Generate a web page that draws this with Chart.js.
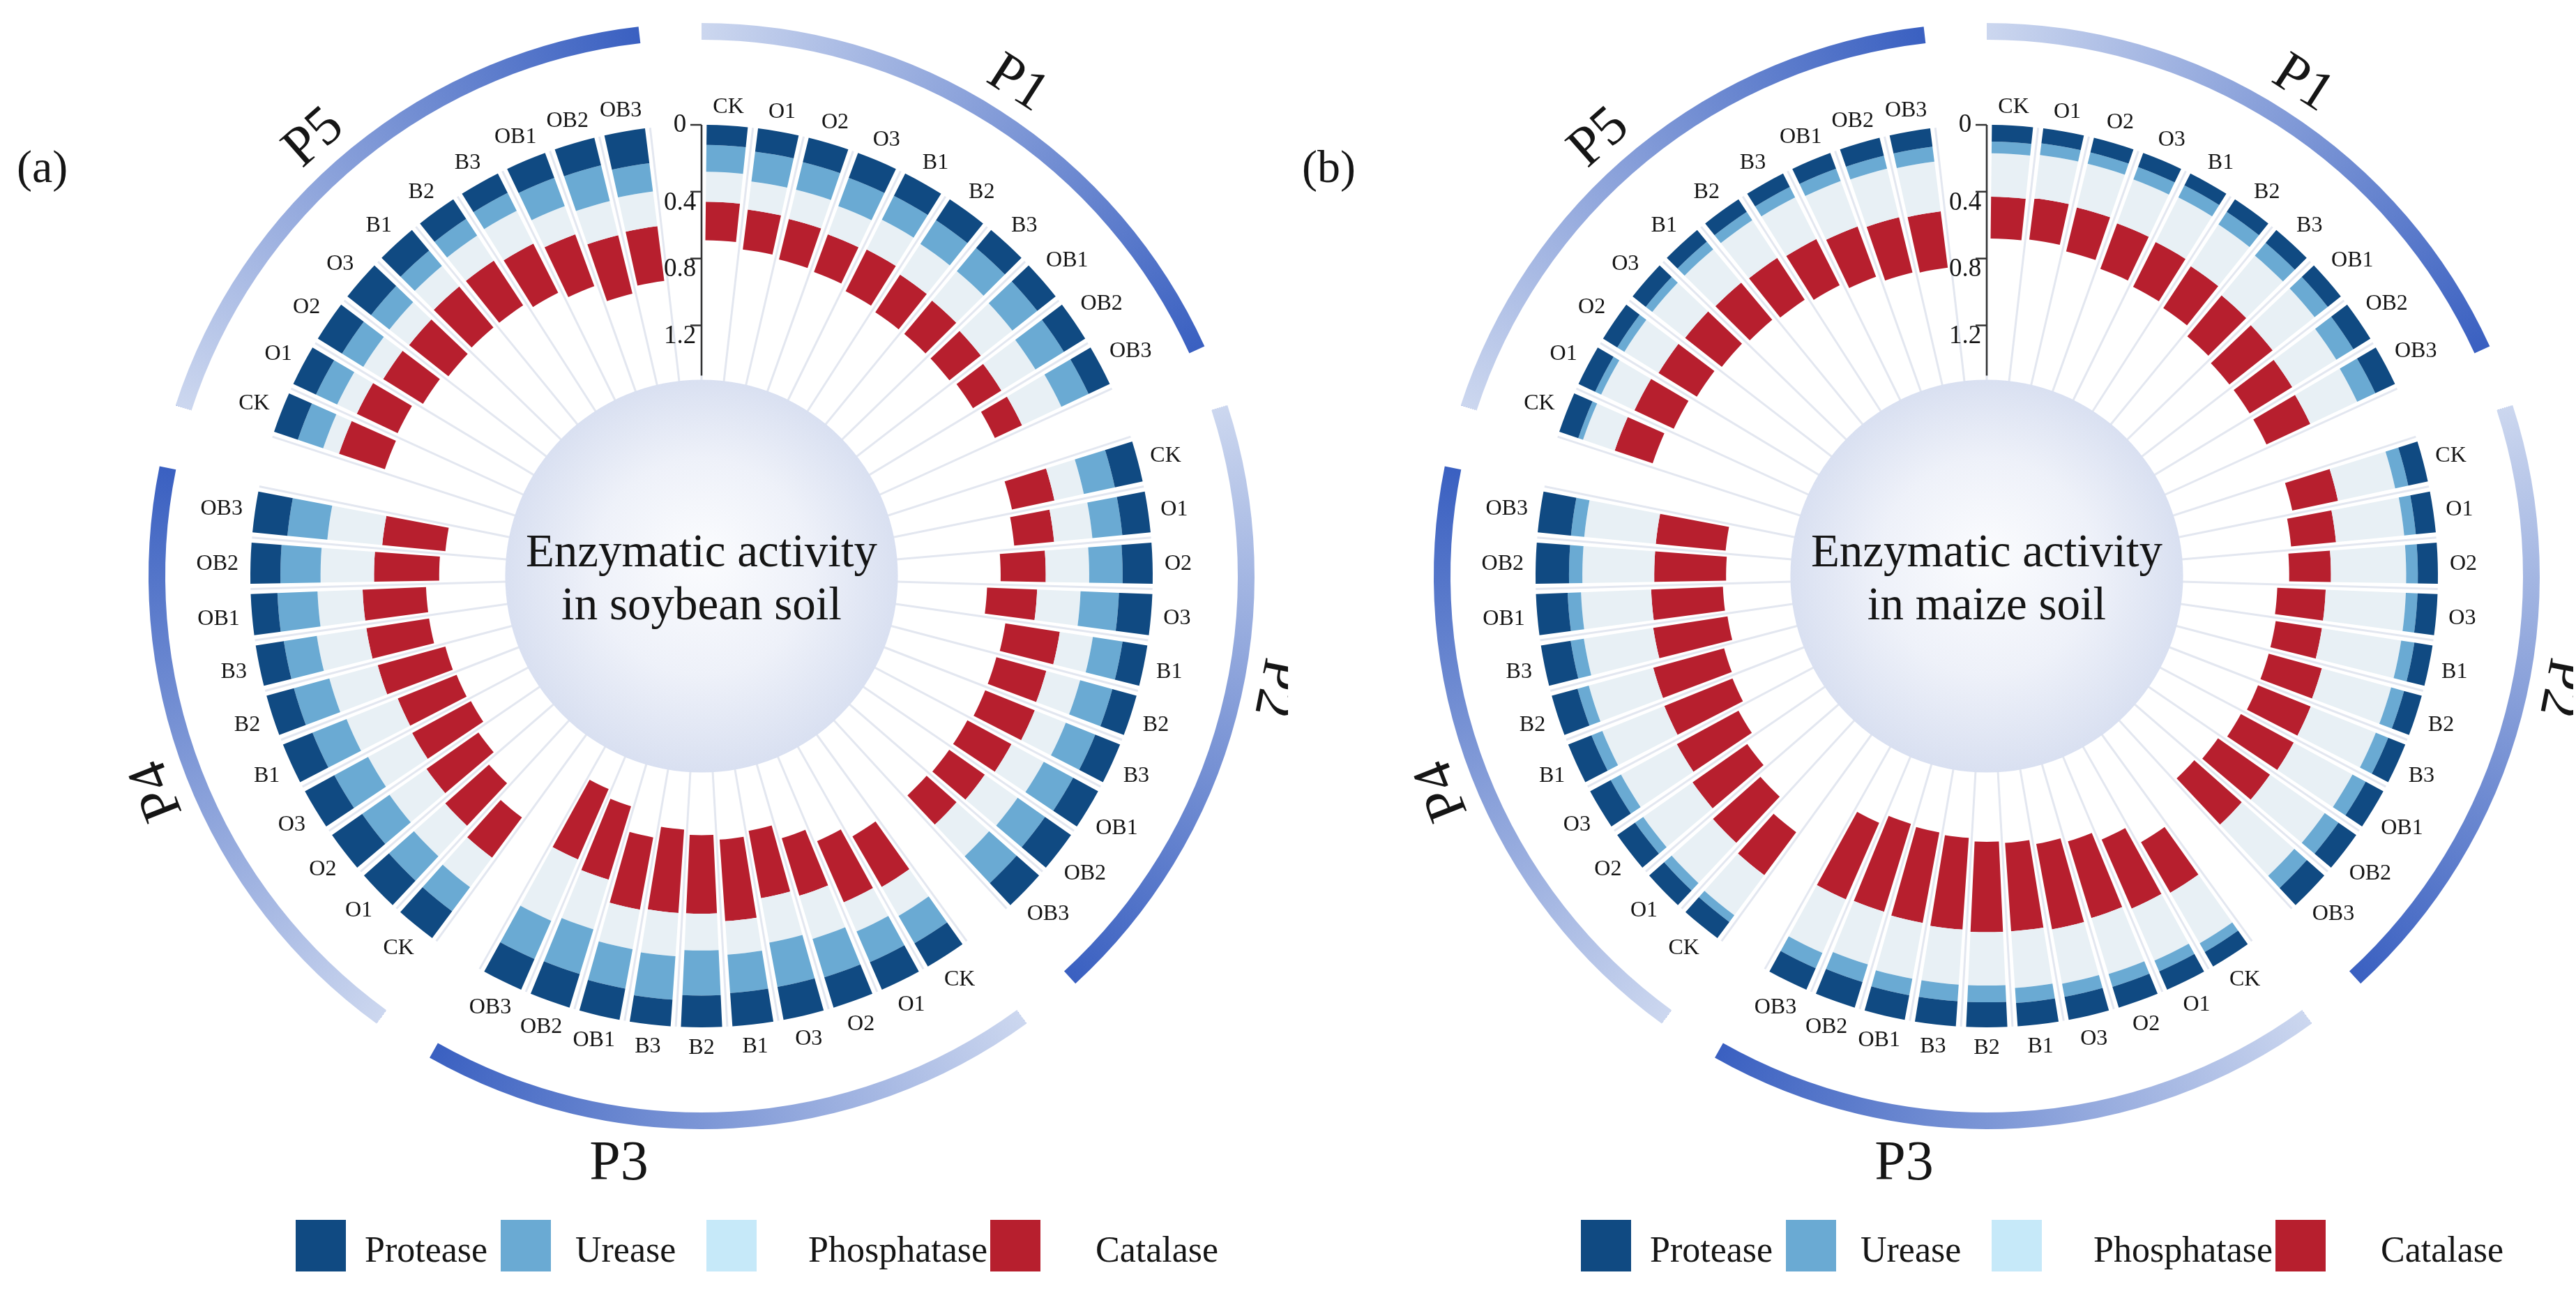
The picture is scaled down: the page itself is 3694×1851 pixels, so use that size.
<!DOCTYPE html>
<html>
<head>
<meta charset="utf-8">
<script src="https://cdn.jsdelivr.net/npm/chart.js@4.4.0/dist/chart.umd.min.js"></script>
<style>
  html, body { margin: 0; padding: 0; background: #fff; }
  #page { position: relative; width: 3694px; height: 1851px; overflow: hidden;
          font-family: "Liberation Serif", "Times New Roman", serif; color: #151515; }
  .panel { position: absolute; top: 0; width: 1847px; height: 1851px; }
  .panel canvas { position: absolute; left: 0; top: 0; }
  .tag { position: absolute; left: 24px; top: 206px; font-size: 66px; line-height: 1; }
  .lg-box { position: absolute; top: 1749px; width: 72px; height: 74px; }
  .lg-text { position: absolute; top: 1766px; font-size: 52px; line-height: 1; white-space: nowrap; }
</style>
</head>
<body>
<div id="page">
  <div class="panel" id="panelA" style="left:0px">
    <canvas id="chartA" width="1847" height="1851"></canvas>
    <div class="tag">(a)</div>
  </div>
  <div class="panel" id="panelB" style="left:1843px">
    <canvas id="chartB" width="1847" height="1851"></canvas>
    <div class="tag">(b)</div>
  </div>
</div>
<script>
  // categories
  const groups = ['P1', 'P2', 'P3', 'P4', 'P5'];
  const treatments = ['CK', 'O1', 'O2', 'O3', 'B1', 'B2', 'B3', 'OB1', 'OB2', 'OB3'];
  const enzymes = ['Protease', 'Urease', 'Phosphatase', 'Catalase'];
  const barColors = ['#104a82', '#6aaad3', '#e8f0f5', '#b71f2e'];
  const legendColors = ['#104a82', '#6aaad3', '#c6e9f9', '#b71f2e'];
  const radialTicks = [0, 0.4, 0.8, 1.2];

  // soybean soil, values per group P1..P5, treatments CK..OB3
  const soyProtease = [
    0.12, 0.14, 0.15, 0.16, 0.15, 0.15, 0.14, 0.14, 0.15, 0.14,
    0.17, 0.17, 0.18, 0.20, 0.15, 0.15, 0.16, 0.17, 0.19, 0.18,
    0.16, 0.18, 0.19, 0.20, 0.20, 0.19, 0.16, 0.19, 0.21, 0.20,
    0.20, 0.20, 0.22, 0.20, 0.19, 0.17, 0.17, 0.16, 0.18, 0.21,
    0.15, 0.15, 0.17, 0.18, 0.16, 0.14, 0.13, 0.16, 0.17, 0.21
  ];
  const soyUrease = [
    0.16, 0.18, 0.17, 0.18, 0.16, 0.17, 0.18, 0.19, 0.20, 0.18,
    0.19, 0.18, 0.20, 0.23, 0.18, 0.20, 0.19, 0.20, 0.20, 0.22,
    0.19, 0.20, 0.24, 0.27, 0.23, 0.27, 0.26, 0.24, 0.28, 0.25,
    0.18, 0.20, 0.20, 0.23, 0.22, 0.22, 0.20, 0.24, 0.24, 0.24,
    0.16, 0.14, 0.15, 0.14, 0.12, 0.12, 0.12, 0.18, 0.22, 0.17
  ];
  const soyPhosphatase = [
    0.18, 0.17, 0.18, 0.18, 0.20, 0.22, 0.23, 0.24, 0.24, 0.26,
    0.18, 0.23, 0.26, 0.26, 0.20, 0.21, 0.20, 0.22, 0.24, 0.26,
    0.20, 0.19, 0.27, 0.27, 0.20, 0.22, 0.26, 0.24, 0.31, 0.40,
    0.22, 0.25, 0.27, 0.30, 0.33, 0.30, 0.30, 0.27, 0.32, 0.33,
    0.10, 0.13, 0.14, 0.15, 0.16, 0.18, 0.22, 0.18, 0.21, 0.21
  ];
  const soyCatalase = [
    0.23, 0.24, 0.25, 0.24, 0.28, 0.27, 0.26, 0.24, 0.20, 0.18,
    0.26, 0.24, 0.27, 0.30, 0.33, 0.31, 0.32, 0.30, 0.26, 0.24,
    0.35, 0.40, 0.36, 0.41, 0.49, 0.47, 0.50, 0.44, 0.46, 0.46,
    0.30, 0.35, 0.38, 0.40, 0.38, 0.42, 0.38, 0.38, 0.39, 0.38,
    0.29, 0.27, 0.28, 0.30, 0.32, 0.32, 0.33, 0.33, 0.36, 0.33
  ];

  // maize soil
  const maizeProtease = [
    0.10, 0.09, 0.09, 0.09, 0.08, 0.09, 0.10, 0.10, 0.12, 0.13,
    0.12, 0.12, 0.12, 0.12, 0.11, 0.11, 0.11, 0.12, 0.13, 0.14,
    0.10, 0.12, 0.13, 0.14, 0.14, 0.15, 0.15, 0.15, 0.16, 0.14,
    0.12, 0.12, 0.13, 0.14, 0.15, 0.16, 0.18, 0.19, 0.20, 0.20,
    0.12, 0.11, 0.10, 0.10, 0.09, 0.09, 0.09, 0.10, 0.11, 0.11
  ];
  const maizeUrease = [
    0.07, 0.07, 0.07, 0.08, 0.08, 0.09, 0.10, 0.10, 0.12, 0.12,
    0.08, 0.07, 0.07, 0.07, 0.08, 0.08, 0.08, 0.09, 0.10, 0.10,
    0.06, 0.07, 0.08, 0.08, 0.09, 0.10, 0.10, 0.10, 0.11, 0.10,
    0.05, 0.06, 0.06, 0.07, 0.07, 0.07, 0.08, 0.08, 0.08, 0.08,
    0.03, 0.04, 0.05, 0.05, 0.06, 0.06, 0.07, 0.08, 0.08, 0.09
  ];
  const maizePhosphatase = [
    0.26, 0.26, 0.27, 0.28, 0.30, 0.30, 0.31, 0.32, 0.31, 0.31,
    0.35, 0.41, 0.45, 0.48, 0.48, 0.43, 0.42, 0.40, 0.40, 0.42,
    0.35, 0.34, 0.35, 0.33, 0.34, 0.32, 0.33, 0.34, 0.33, 0.35,
    0.30, 0.33, 0.36, 0.38, 0.40, 0.40, 0.42, 0.42, 0.43, 0.43,
    0.20, 0.22, 0.24, 0.25, 0.26, 0.27, 0.28, 0.29, 0.30, 0.30
  ];
  const maizeCatalase = [
    0.25, 0.25, 0.27, 0.29, 0.30, 0.30, 0.32, 0.33, 0.30, 0.29,
    0.28, 0.27, 0.25, 0.29, 0.28, 0.33, 0.34, 0.36, 0.38, 0.38,
    0.35, 0.45, 0.48, 0.52, 0.53, 0.54, 0.55, 0.55, 0.55, 0.50,
    0.32, 0.38, 0.40, 0.42, 0.44, 0.44, 0.45, 0.43, 0.43, 0.42,
    0.24, 0.26, 0.27, 0.28, 0.29, 0.30, 0.31, 0.32, 0.34, 0.34
  ];

  const SERIF = '"Liberation Serif", "Times New Roman", serif';
  const groupLabelAngles = [32.7, 101, 188, 248.5, 318.5];
  const groupLabelRadius = [838, 838, 852, 838, 838];

  // one empty slot after each group leaves the gaps
  function slotLabels() {
    const out = [];
    groups.forEach(() => { treatments.forEach(t => out.push(t)); out.push(''); });
    return out;
  }
  function slotData(values) {
    const out = [];
    groups.forEach((g, gi) => {
      for (let k = 0; k < treatments.length; k++) out.push(values[gi * treatments.length + k]);
      out.push(null);
    });
    return out;
  }

  // stacks the arcs from the outer edge inward, and narrows each bar
  const radialStack = {
    id: 'radialStack',
    afterDatasetsUpdate(chart) {
      const scale = chart.scales.r;
      const n = chart.data.labels.length;
      const slot = 2 * Math.PI / n;
      const trim = slot * 0.1;
      const base = new Array(n).fill(0);
      chart.data.datasets.forEach((ds, di) => {
        chart.getDatasetMeta(di).data.forEach((arc, i) => {
          const v = ds.data[i];
          if (v == null) {
            arc.innerRadius = 0; arc.outerRadius = 0; arc.circumference = 0;
            return;
          }
          const start = -Math.PI / 2 + i * slot + trim;
          arc.startAngle = start;
          arc.endAngle = start + slot - 2 * trim;
          arc.circumference = slot - 2 * trim;
          arc.outerRadius = scale.getDistanceFromCenterForValue(base[i]);
          arc.innerRadius = scale.getDistanceFromCenterForValue(base[i] + v);
          base[i] += v;
        });
      });
    },
    beforeDatasetsDraw(chart) {
      const ctx = chart.ctx;
      const scale = chart.scales.r;
      const cx = scale.xCenter, cy = scale.yCenter;
      const n = chart.data.labels.length;
      ctx.save();
      // radial grid lines at slot edges
      ctx.strokeStyle = '#e3e7f0';
      ctx.lineWidth = 3;
      for (let i = 0; i < n; i++) {
        const p = scale.getPointPosition(i, scale.getDistanceFromCenterForValue(0));
        ctx.beginPath();
        ctx.moveTo(cx, cy);
        ctx.lineTo(p.x, p.y);
        ctx.stroke();
      }
      // centre disc
      const rc = scale.getDistanceFromCenterForValue(1.525);
      const g = ctx.createRadialGradient(cx, cy - 30, 0, cx, cy, rc);
      g.addColorStop(0, '#fbfcfe');
      g.addColorStop(0.55, '#eef1f9');
      g.addColorStop(1, '#d9e0f1');
      ctx.fillStyle = g;
      ctx.beginPath();
      ctx.arc(cx, cy, rc, 0, 2 * Math.PI);
      ctx.fill();
      ctx.restore();
    },
    afterDraw(chart) {
      const ctx = chart.ctx;
      const scale = chart.scales.r;
      const cx = scale.xCenter, cy = scale.yCenter;
      const n = chart.data.labels.length;
      const slot = 2 * Math.PI / n;
      const R0 = scale.getDistanceFromCenterForValue(0);
      const title = chart.options.plugins.radialStack.title;
      ctx.save();
      ctx.fillStyle = '#151515';
      ctx.strokeStyle = '#333';

      // value axis in the gap at the top
      const rEnd = scale.getDistanceFromCenterForValue(1.5);
      ctx.lineWidth = 2.5;
      ctx.beginPath();
      ctx.moveTo(cx, cy - R0);
      ctx.lineTo(cx, cy - rEnd);
      ctx.stroke();
      ctx.font = '37px ' + SERIF;
      ctx.textAlign = 'center';
      ctx.textBaseline = 'middle';
      radialTicks.forEach(t => {
        const y = cy - scale.getDistanceFromCenterForValue(t);
        ctx.beginPath();
        ctx.moveTo(cx - 16, y);
        ctx.lineTo(cx, y);
        ctx.stroke();
        ctx.fillText(String(t), cx - 31, y + (t === 0 ? 0 : 16));
      });

      // treatment labels outside the bars
      ctx.font = '32px ' + SERIF;
      ctx.textBaseline = 'alphabetic';
      chart.data.labels.forEach((lab, i) => {
        if (!lab) return;
        const th = (i + 0.5) * slot;
        const s = Math.sin(th), c = Math.cos(th);
        const w = ctx.measureText(lab).width;
        const r = R0 + 17 + Math.abs(s) * w / 2 + Math.abs(c) * 10.5;
        ctx.fillText(lab, cx + r * s, cy - r * c + 10.5);
      });

      // group rings with gradient
      groups.forEach((gname, gi) => {
        const a0 = -Math.PI / 2 + gi * (treatments.length + 1) * slot;
        const a1 = a0 + treatments.length * slot;
        const grad = ctx.createConicGradient(a0, cx, cy);
        grad.addColorStop(0, '#ccd7ef');
        grad.addColorStop((a1 - a0) / (2 * Math.PI), '#3a60c1');
        grad.addColorStop(1, '#3a60c1');
        ctx.strokeStyle = grad;
        ctx.lineWidth = 24;
        ctx.beginPath();
        ctx.arc(cx, cy, 781, a0, a1);
        ctx.stroke();
      });

      // group names
      ctx.font = '80px ' + SERIF;
      ctx.textBaseline = 'middle';
      groups.forEach((gname, gi) => {
        const deg = groupLabelAngles[gi];
        const th = deg * Math.PI / 180;
        const r = groupLabelRadius[gi];
        const rot = (deg > 135 && deg < 225) ? 0 : deg;
        ctx.save();
        ctx.translate(cx + r * Math.sin(th), cy - r * Math.cos(th));
        ctx.rotate(rot * Math.PI / 180);
        ctx.fillText(gname, 0, 0);
        ctx.restore();
      });

      // title inside the disc
      ctx.font = '67px ' + SERIF;
      ctx.textBaseline = 'alphabetic';
      ctx.fillText(title[0], cx, cy - 14);
      ctx.fillText(title[1], cx, cy + 62);
      ctx.restore();
    }
  };

  function makeChart(canvasId, values, title) {
    const labels = slotLabels();
    const datasets = enzymes.map((name, k) => ({
      label: name,
      data: slotData(values[k]),
      backgroundColor: barColors[k],
      borderWidth: 0
    }));
    return new Chart(document.getElementById(canvasId), {
      type: 'polarArea',
      data: { labels, datasets },
      options: {
        responsive: false,
        animation: false,
        events: [],
        layout: { padding: { left: 359, right: 194, top: 179, bottom: 378 } },
        plugins: {
          legend: { display: false },
          tooltip: { enabled: false },
          radialStack: { title }
        },
        scales: {
          r: {
            min: 0,
            max: 2.7,
            reverse: true,
            startAngle: 0,
            ticks: { display: false },
            grid: { display: false },
            angleLines: { display: false },
            pointLabels: { display: false }
          }
        }
      },
      plugins: [radialStack]
    });
  }

  function makeLegend(panelId) {
    const panel = document.getElementById(panelId);
    const boxX = [424, 718, 1013, 1420];
    const textX = [523, 825, 1159, 1571];
    enzymes.forEach((name, k) => {
      const t = document.createElement('div');
      t.className = 'lg-text';
      t.style.left = textX[k] + 'px';
      t.textContent = name;
      panel.appendChild(t);
    });
    enzymes.forEach((name, k) => {
      const b = document.createElement('div');
      b.className = 'lg-box';
      b.style.left = boxX[k] + 'px';
      b.style.background = legendColors[k];
      panel.appendChild(b);
    });
  }

  makeChart('chartA', [soyProtease, soyUrease, soyPhosphatase, soyCatalase],
    ['Enzymatic activity', 'in soybean soil']);
  makeChart('chartB', [maizeProtease, maizeUrease, maizePhosphatase, maizeCatalase],
    ['Enzymatic activity', 'in maize soil']);
  makeLegend('panelA');
  makeLegend('panelB');
</script>
</body>
</html>
